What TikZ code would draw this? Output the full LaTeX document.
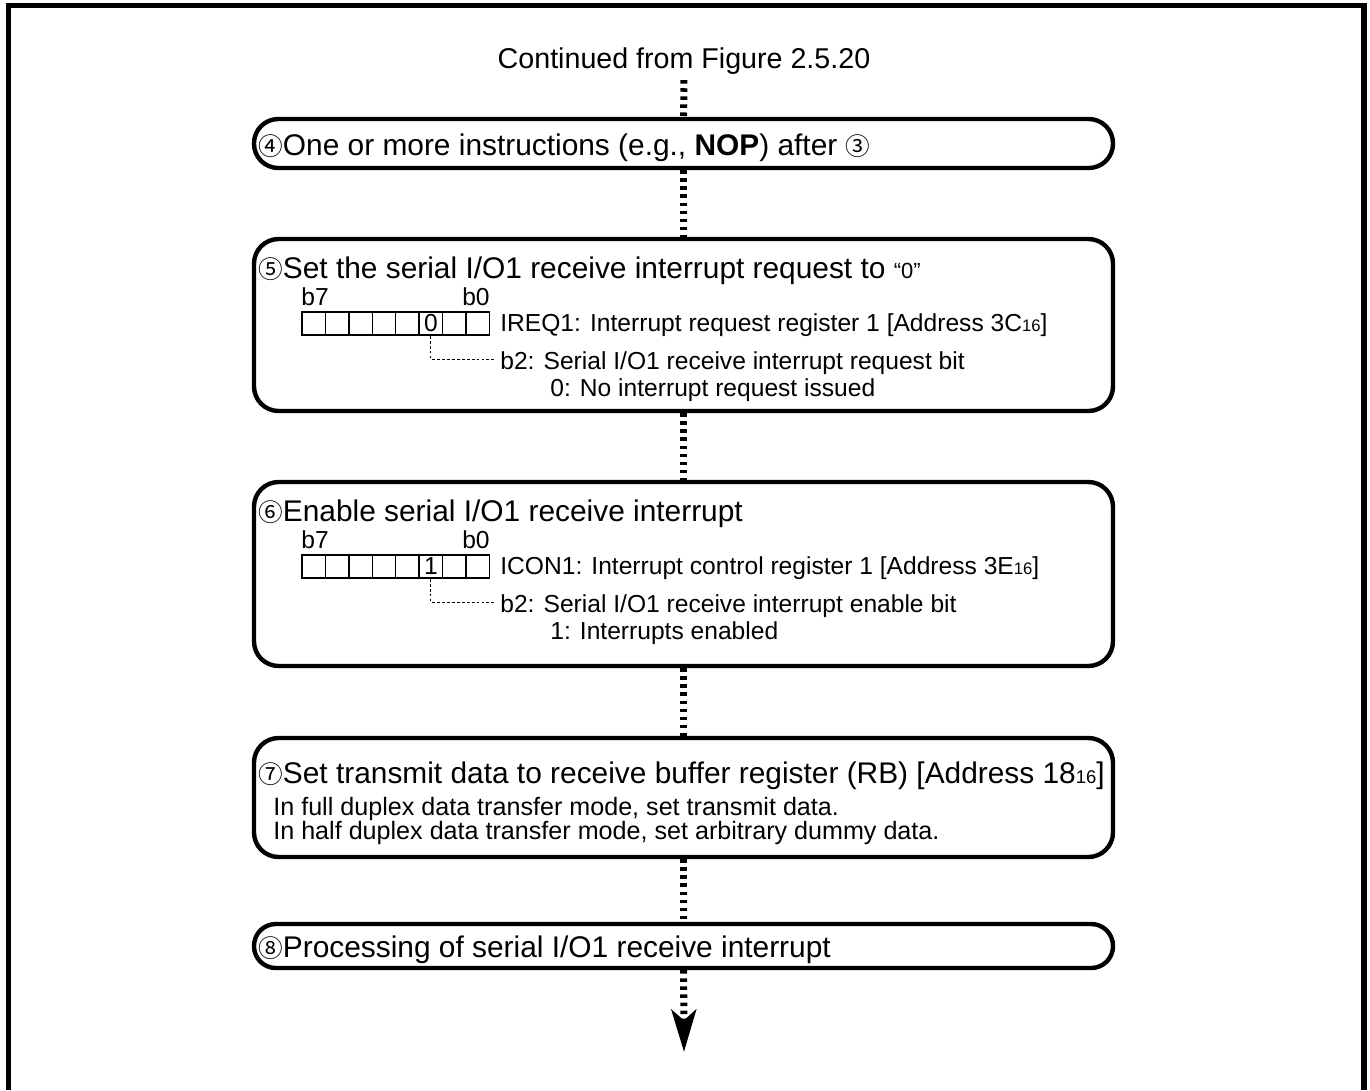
\documentclass[tikz,border=0pt]{standalone}
\usepackage{fontspec}
\setmainfont{Liberation Sans}
\newfontfamily\circfont{Noto Sans CJK JP}
\usetikzlibrary{arrows.meta,fit}

\newcommand{\headfont}{\fontsize{16.3}{19}\selectfont}
\newcommand{\bigfont}{\fontsize{17}{20}\selectfont}
\newcommand{\regfont}{\fontsize{14}{16}\selectfont}
\newcommand{\notefont}{\fontsize{14.3}{16}\selectfont}
\newcommand{\circnum}[1]{{\circfont\fontsize{14}{16}\selectfont #1}}
\newcommand{\hexsub}[1]{{\fontsize{9.5}{11}\selectfont #1}}
\newcommand{\hexbig}[1]{{\fontsize{10.5}{12}\selectfont #1}}

\begin{document}
\begin{tikzpicture}[x=0.02cm, y=-0.02cm,
    stepbox/.style={draw, line width=2.5pt, rounded corners=14pt, inner sep=0pt},
    flowline/.style={line width=4pt, dash pattern=on 2pt off 2.6pt},
    bitcell/.style={draw, line width=0.8pt, minimum size=13.29pt, inner sep=0pt},
    bitlead/.style={line width=0.5pt, dash pattern=on 1.6pt off 1.2pt},
    txt/.style={anchor=base west, inner sep=0pt}]
    \useasboundingbox (0,0) rectangle (1370,1090);

    % outer frame (open at the bottom)
    \draw[line width=3pt] (8.5,1090) -- (8.5,5.5) -- (1364,5.5) -- (1364,1090);

    \node[font=\headfont, anchor=base] (title) at (684,68) {Continued from Figure 2.5.20};

    % step 4
    \node[stepbox, rounded corners=13.8pt, fit={(254,119) (1113,168)}] (s4) {};
    \node[txt, font=\bigfont] (t4) at (258,155) {\circnum{④}One or more instructions (e.g., \textbf{NOP}) after \circnum{③}};

    % step 5
    \node[stepbox, fit={(254,239) (1113,411)}] (s5) {};
    \node[txt, font=\bigfont] (t5) at (258,278) {\circnum{⑤}Set the serial I/O1 receive interrupt request to {\fontsize{12.5}{14}\selectfont “0”}};
    \node[txt, font=\regfont] (hi5) at (301,305) {b7};
    \node[txt, font=\regfont, anchor=base east] (lo5) at (490,305) {b0};
    \foreach \i in {0,...,7}
        \node[bitcell] (r5c\i) at ({313.7+23.44*\i},323.5) {};
    \node[font=\regfont, inner sep=0pt] (v5) at (r5c5) {0};
    \node[txt, font=\regfont] (n5) at (500,331) {IREQ1: Interrupt request register 1 [Address 3C\hexsub{16}]};
    \node[txt, font=\regfont] (d5) at (500,369) {b2: Serial I/O1 receive interrupt request bit};
    \node[txt, font=\regfont] (e5) at (550,396) {0: No interrupt request issued};
    \draw[bitlead] (r5c5.south) |- ([shift={(-5,-10)}]d5.base west);

    % step 6
    \node[stepbox, fit={(254,482) (1113,666)}] (s6) {};
    \node[txt, font=\bigfont] (t6) at (258,521) {\circnum{⑥}Enable serial I/O1 receive interrupt};
    \node[txt, font=\regfont] (hi6) at (301,548) {b7};
    \node[txt, font=\regfont, anchor=base east] (lo6) at (490,548) {b0};
    \foreach \i in {0,...,7}
        \node[bitcell] (r6c\i) at ({313.7+23.44*\i},566.5) {};
    \node[font=\regfont, inner sep=0pt] (v6) at (r6c5) {1};
    \node[txt, font=\regfont] (n6) at (500,574) {ICON1: Interrupt control register 1 [Address 3E\hexsub{16}]};
    \node[txt, font=\regfont] (d6) at (500,612) {b2: Serial I/O1 receive interrupt enable bit};
    \node[txt, font=\regfont] (e6) at (550,639) {1: Interrupts enabled};
    \draw[bitlead] (r6c5.south) |- ([shift={(-5,-10)}]d6.base west);

    % step 7
    \node[stepbox, fit={(254,738) (1113,857)}] (s7) {};
    \node[txt, font=\bigfont] (t7) at (258,783) {\circnum{⑦}Set transmit data to receive buffer register (RB) [Address 18\hexbig{16}]};
    \node[txt, font=\notefont] (m7) at (273,815) {In full duplex data transfer mode, set transmit data.};
    \node[txt, font=\notefont] (h7) at (273,839) {In half duplex data transfer mode, set arbitrary dummy data.};

    % step 8
    \node[stepbox, rounded corners=12.4pt, fit={(254,924) (1113,968)}] (s8) {};
    \node[txt, font=\bigfont] (t8) at (258,957) {\circnum{⑧}Processing of serial I/O1 receive interrupt};

    % dotted flow
    \draw[flowline] (title) -- (s4);
    \foreach \a/\b in {s4/s5, s5/s6, s6/s7, s7/s8}
        \draw[flowline] (\a) -- (\b);
    \coordinate (flowend) at (684,1052);
    \draw[flowline, -{Stealth[length=24pt, width=14pt, inset=6pt]}] (s8) -- (flowend);
\end{tikzpicture}
\end{document}
